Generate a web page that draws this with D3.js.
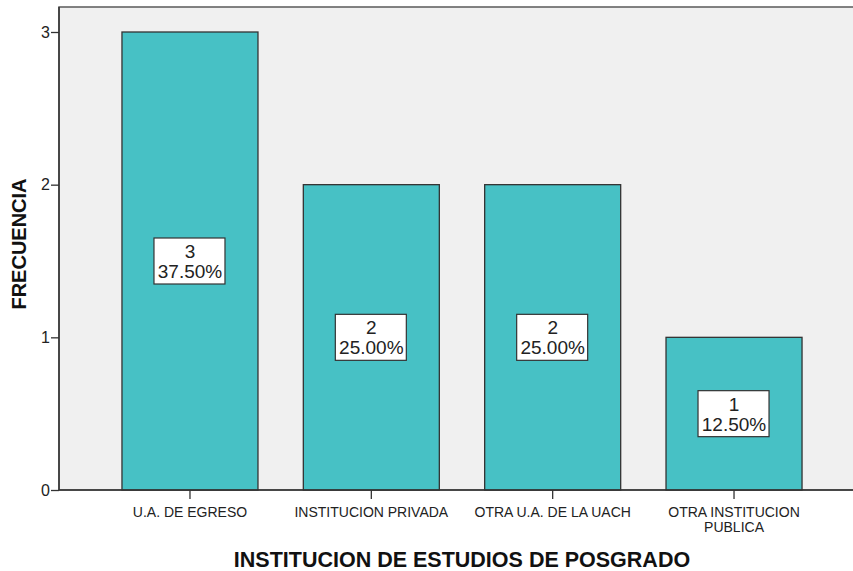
<!DOCTYPE html>
<html>
<head>
<meta charset="utf-8">
<script src="https://cdn.jsdelivr.net/npm/d3@7"></script>
<style>
body { margin: 0; background: white; }
svg { display: block; font-family: "Liberation Sans", Arial, sans-serif; }
</style>
</head>
<body>
<div id="chart"></div>
<script>
// Data
var categories = ["U.A. DE EGRESO", "INSTITUCION PRIVADA", "OTRA U.A. DE LA UACH", "OTRA INSTITUCION\nPUBLICA"];
var counts = [3, 2, 2, 1];
var percents = ["37.50%", "25.00%", "25.00%", "12.50%"];
var yTicks = [0, 1, 2, 3];
var xTitle = "INSTITUCION DE ESTUDIOS DE POSGRADO";
var yTitle = "FRECUENCIA";

var W = 853, H = 571;
var PLOT_L = 59, PLOT_T = 7, PLOT_B = 490, PLOT_R = 853;
var BAR_FILL = "#47c1c5";

function DrawChart() {
    var svg = d3.select("#chart").append("svg")
	.attr("width", W)
	.attr("height", H);

    var x = d3.scaleBand()
	.domain(categories)
	.range([99.3, 824.7])
	.paddingInner(0.25)
	.paddingOuter(0.125);
    var y = d3.scaleLinear()
	.domain([0, 3])
	.range([PLOT_B, 32]);

    // plot background + frame
    svg.append("rect")
	.attr("x", PLOT_L)
	.attr("y", PLOT_T)
	.attr("width", PLOT_R - PLOT_L + 2)
	.attr("height", PLOT_B - PLOT_T)
	.style("fill", "#f0f0f0")
	.style("stroke", "#5a5a5a")
	.style("stroke-width", 1.5);

    // bars
    svg.selectAll("rect.bar")
	.data(counts)
	.enter().append("rect")
	.attr("class", "bar")
	.attr("x", function(d, i) { return x(categories[i]); })
	.attr("y", function(d) { return y(d); })
	.attr("width", x.bandwidth())
	.attr("height", function(d) { return y(0) - y(d); })
	.style("fill", BAR_FILL)
	.style("stroke", "#333")
	.style("stroke-width", 1.3);

    // y axis
    var yAxis = d3.axisLeft(y)
	.tickValues(yTicks)
	.tickFormat(d3.format("d"))
	.tickSize(8)
	.tickPadding(1);
    var gy = svg.append("g")
	.attr("transform", "translate(" + PLOT_L + ",0)")
	.call(yAxis);
    gy.select(".domain").remove();
    gy.selectAll("line").style("stroke", "#333").style("stroke-width", 1.3);
    gy.selectAll("text")
	.style("font-size", "16px")
	.style("fill", "#222");

    // x axis
    var xAxis = d3.axisBottom(x)
	.tickSize(9)
	.tickPadding(4)
	.tickFormat("");
    var gx = svg.append("g")
	.attr("transform", "translate(0," + PLOT_B + ")")
	.call(xAxis);
    gx.select(".domain").remove();
    gx.selectAll("line").style("stroke", "#333").style("stroke-width", 1.3);
    gx.selectAll(".tick").each(function(d) {
	var lines = d.split("\n");
	var t = d3.select(this).append("text")
	    .attr("text-anchor", "middle")
	    .style("font-size", "14px")
	    .style("fill", "#222");
	lines.forEach(function(s, k) {
	    t.append("tspan")
		.attr("x", 0)
		.attr("y", 27 + k*14.5)
		.text(s);
	});
    });

    // axis base line on top of bars
    svg.append("line")
	.attr("x1", PLOT_L).attr("x2", PLOT_R)
	.attr("y1", PLOT_B).attr("y2", PLOT_B)
	.style("stroke", "#333").style("stroke-width", 1.5);
    svg.append("line")
	.attr("x1", PLOT_L).attr("x2", PLOT_L)
	.attr("y1", PLOT_T).attr("y2", PLOT_B)
	.style("stroke", "#333").style("stroke-width", 1.5);

    // value labels
    var lab = svg.selectAll("g.lab")
	.data(counts)
	.enter().append("g")
	.attr("class", "lab")
	.attr("transform", function(d, i) {
	    return "translate(" + (x(categories[i]) + x.bandwidth()/2) + "," + ((y(d) + y(0))/2) + ")";
	});
    lab.append("rect")
	.attr("x", -36)
	.attr("y", -23)
	.attr("width", 71)
	.attr("height", 46)
	.style("fill", "white")
	.style("stroke", "#333")
	.style("stroke-width", 1.2);
    lab.append("text")
	.attr("text-anchor", "middle")
	.attr("y", -3)
	.style("font-size", "19px")
	.style("fill", "#222")
	.text(function(d) { return d; });
    lab.append("text")
	.attr("text-anchor", "middle")
	.attr("y", 17)
	.style("font-size", "19px")
	.style("fill", "#222")
	.text(function(d, i) { return percents[i]; });

    // titles
    svg.append("text")
	.attr("x", 462)
	.attr("y", 567)
	.attr("text-anchor", "middle")
	.style("font-size", "21.5px")
	.style("font-weight", "bold")
	.style("fill", "#111")
	.text(xTitle);
    svg.append("text")
	.attr("transform", "translate(26,244) rotate(-90)")
	.attr("text-anchor", "middle")
	.style("font-size", "20px")
	.style("font-weight", "bold")
	.style("fill", "#111")
	.text(yTitle);
}

DrawChart();
</script>
</body>
</html>
